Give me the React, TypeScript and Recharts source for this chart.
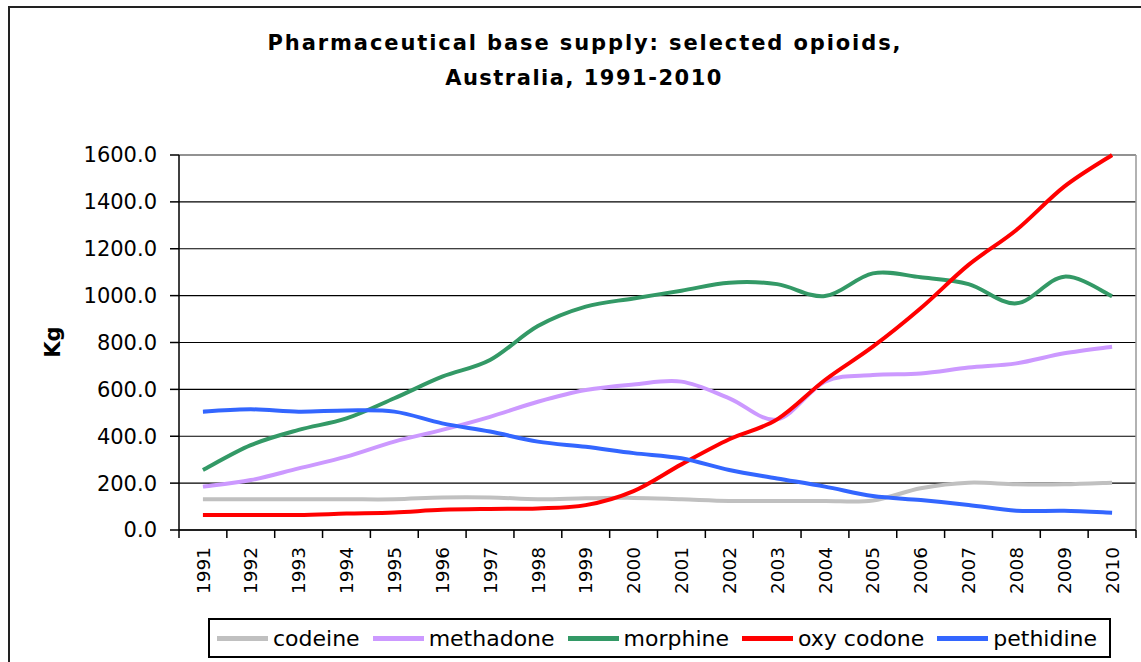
import { LineChart, Line, XAxis, YAxis, CartesianGrid, ReferenceLine } from 'recharts';

const years = [1991, 1992, 1993, 1994, 1995, 1996, 1997, 1998, 1999, 2000,
  2001, 2002, 2003, 2004, 2005, 2006, 2007, 2008, 2009, 2010];
const codeine = [131, 131, 131, 131, 131, 139, 139, 131, 135, 137,
  131, 124, 124, 124, 126, 178, 202, 195, 195, 202];
const methadone = [185, 213, 263, 313, 377, 427, 483, 547, 597, 621,
  633, 562, 472, 633, 661, 668, 693, 711, 754, 782];
const morphine = [256, 362, 427, 476, 562, 654, 725, 870, 953, 988,
  1021, 1055, 1049, 998, 1095, 1078, 1049, 967, 1081, 998];
const oxycodone = [64, 64, 64, 70, 75, 86, 90, 92, 106, 166,
  280, 387, 472, 640, 782, 946, 1131, 1280, 1465, 1600];
const pethidine = [505, 515, 505, 510, 505, 455, 420, 377, 355, 328,
  306, 256, 220, 185, 145, 128, 107, 82, 82, 74];
const yTicks = [0, 200, 400, 600, 800, 1000, 1200, 1400, 1600];

const series = [
  { key: 'codeine', name: 'codeine', color: '#c0c0c0', values: codeine },
  { key: 'methadone', name: 'methadone', color: '#cc99ff', values: methadone },
  { key: 'morphine', name: 'morphine', color: '#339966', values: morphine },
  { key: 'oxycodone', name: 'oxy codone', color: '#ff0000', values: oxycodone },
  { key: 'pethidine', name: 'pethidine', color: '#3366ff', values: pethidine },
];

const data = years.map((year, i) => {
  const row: Record<string, number> = { year };
  series.forEach((s) => { row[s.key] = s.values[i]; });
  return row;
});

const FONT = '"DejaVu Sans", sans-serif';
const PLOT_W = 957;
const HALF = PLOT_W / years.length / 2;

// excel-like smoothed line (catmull-rom as cubic beziers)
function smoothCurve(context: any) {
  let pts: number[][] = [];
  return {
    areaStart() {},
    areaEnd() {},
    lineStart() { pts = []; },
    point(x: number, y: number) { pts.push([+x, +y]); },
    lineEnd() {
      if (!pts.length) return;
      context.moveTo(pts[0][0], pts[0][1]);
      for (let i = 0; i < pts.length - 1; i++) {
        const p0 = pts[i - 1] || pts[i];
        const p1 = pts[i];
        const p2 = pts[i + 1];
        const p3 = pts[i + 2] || p2;
        context.bezierCurveTo(
          p1[0] + (p2[0] - p0[0]) / 6, p1[1] + (p2[1] - p0[1]) / 6,
          p2[0] - (p3[0] - p1[0]) / 6, p2[1] - (p3[1] - p1[1]) / 6,
          p2[0], p2[1],
        );
      }
    },
  };
}

function YearTick(props: any) {
  const { x, y, payload, index } = props;
  const top = y - 8;
  return (
    <g>
      <line x1={x - HALF} y1={top} x2={x - HALF} y2={top + 8} stroke="#000" strokeWidth={1.5} />
      {index === years.length - 1 && (
        <line x1={x + HALF} y1={top} x2={x + HALF} y2={top + 8} stroke="#000" strokeWidth={1.5} />
      )}
      <text
        x={x}
        y={top + 17}
        transform={`rotate(-90 ${x} ${top + 17})`}
        textAnchor="end"
        dy="0.36em"
        fontSize={18.5}
        fontFamily={FONT}
        fill="#000"
      >
        {payload.value}
      </text>
    </g>
  );
}

export default function App() {
  return (
    <div style={{ position: 'absolute', left: 0, top: 0, width: 1141, height: 662, overflow: 'hidden', background: '#fff' }}>
      <div style={{ position: 'absolute', left: 8, top: 6, width: 1200, height: 700, border: '2px solid #222' }} />
      <LineChart width={1141} height={662} data={data} margin={{ top: 155, right: 5, bottom: 52, left: 0 }}>
        <CartesianGrid vertical={false} stroke="#000" strokeWidth={1.2} />
        <XAxis
          dataKey="year"
          type="number"
          domain={[1990.5, 2010.5]}
          ticks={years}
          interval={0}
          tickLine={false}
          tickSize={8}
          tickMargin={0}
          height={80}
          axisLine={{ stroke: '#000', strokeWidth: 1.5 }}
          tick={<YearTick />}
        />
        <YAxis
          width={179}
          domain={[0, 1600]}
          ticks={yTicks}
          interval={0}
          tickSize={9}
          tickMargin={13}
          tickFormatter={(v: number) => v.toFixed(1)}
          tick={{ fontSize: 21, fontFamily: FONT, fill: '#000' }}
          tickLine={{ stroke: '#000', strokeWidth: 1.5 }}
          axisLine={{ stroke: '#000', strokeWidth: 1.5 }}
        />
        <ReferenceLine y={1600} stroke="#999" strokeWidth={1.5} />
        <ReferenceLine x={2010.5} stroke="#999" strokeWidth={1.5} />
        {series.map((s) => (
          <Line
            key={s.key}
            type={smoothCurve as any}
            dataKey={s.key}
            name={s.name}
            stroke={s.color}
            strokeWidth={4}
            dot={false}
            isAnimationActive={false}
          />
        ))}
      </LineChart>
      <svg width={1141} height={662} style={{ position: 'absolute', left: 0, top: 0, pointerEvents: 'none' }}>
        <text x={585} y={50} textAnchor="middle" fontFamily={FONT} fontWeight="bold" fontSize={21} letterSpacing={1.9} fill="#000">
          Pharmaceutical base supply: selected opioids,
        </text>
        <text x={584} y={85} textAnchor="middle" fontFamily={FONT} fontWeight="bold" fontSize={21} letterSpacing={1.5} fill="#000">
          Australia, 1991-2010
        </text>
        <text x={52} y={342} transform="rotate(-90 52 342)" textAnchor="middle" dy="0.36em" fontFamily={FONT} fontWeight="bold" fontSize={21} fill="#000">
          Kg
        </text>
      </svg>
      {/* legend */}
      <div
        style={{
          position: 'absolute', left: 208, top: 618, width: 892, height: 36,
          border: '2px solid #000', display: 'flex', alignItems: 'center',
          paddingLeft: 7, boxSizing: 'content-box', fontFamily: FONT, fontSize: 22, color: '#000',
        }}
      >
        {series.map((s) => (
          <div key={s.key} style={{ display: 'flex', alignItems: 'center', marginRight: 13 }}>
            <div style={{ width: 51, height: 5, background: s.color, marginRight: 5 }} />
            <span style={{ whiteSpace: 'nowrap' }}>{s.name}</span>
          </div>
        ))}
      </div>
    </div>
  );
}
